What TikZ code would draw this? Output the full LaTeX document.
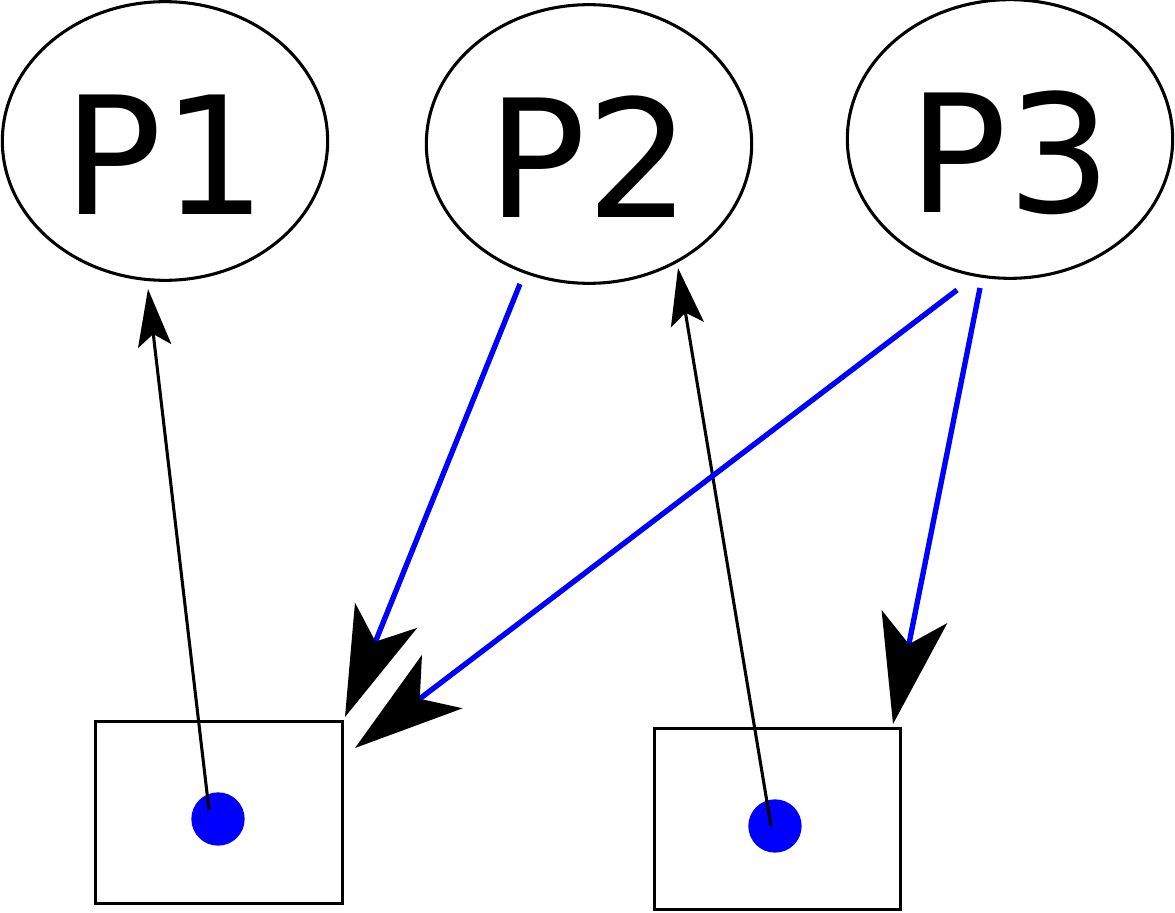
\documentclass[tikz,border=0pt]{standalone}
\usepackage{fontspec}
\setmainfont{DejaVu Sans}
\usetikzlibrary{shapes.geometric,arrows.meta}
\begin{document}
\begin{tikzpicture}[x=0.75pt,y=-0.75pt,
  proc/.style={draw,line width=2.3pt,ellipse,inner sep=0pt,minimum width=244pt,minimum height=209pt,font=\fontsize{123}{123}\selectfont,text height=110pt,text depth=0pt},
  boxn/.style={draw,line width=2.3pt,inner sep=0pt,minimum width=185pt,minimum height=136pt},
  dotn/.style={circle,fill=blue,inner sep=0pt,minimum size=40pt},
  blk/.style={draw=black,line width=2.3pt,-{Stealth[length=43pt,width=25pt,inset=9pt]}},
  blu/.style={draw=blue,line width=4pt,-{Stealth[length=82pt,width=50pt,inset=21pt,color=black]}}]
\useasboundingbox (0,0) rectangle (1175,913);
\node[proc] (p1) at (165,141) {P1};
\node[proc] (p2) at (589,144) {P2};
\node[proc] (p3) at (1010,139) {P3};
\node[boxn] (b1) at (219,812.5) {};
\node[boxn] (b2) at (777.5,819) {};
\node[dotn] (d1) at (218,819) {};
\node[dotn] (d2) at (775,826) {};
\coordinate (s1) at (209,810);
\coordinate (e1) at (148,289);
\coordinate (s2) at (771,826);
\coordinate (e2) at (678,268);
\coordinate (s3) at (520,284);
\coordinate (e3) at (345,717);
\coordinate (s4) at (957,290);
\coordinate (e4) at (355,748);
\coordinate (s5) at (980,288);
\coordinate (e5) at (893,724);
\draw[blk] (s1) -- (e1);
\draw[blk] (s2) -- (e2);
\draw[blu] (s3) -- (e3);
\draw[blu] (s4) -- (e4);
\draw[blu] (s5) -- (e5);
\end{tikzpicture}
\end{document}
